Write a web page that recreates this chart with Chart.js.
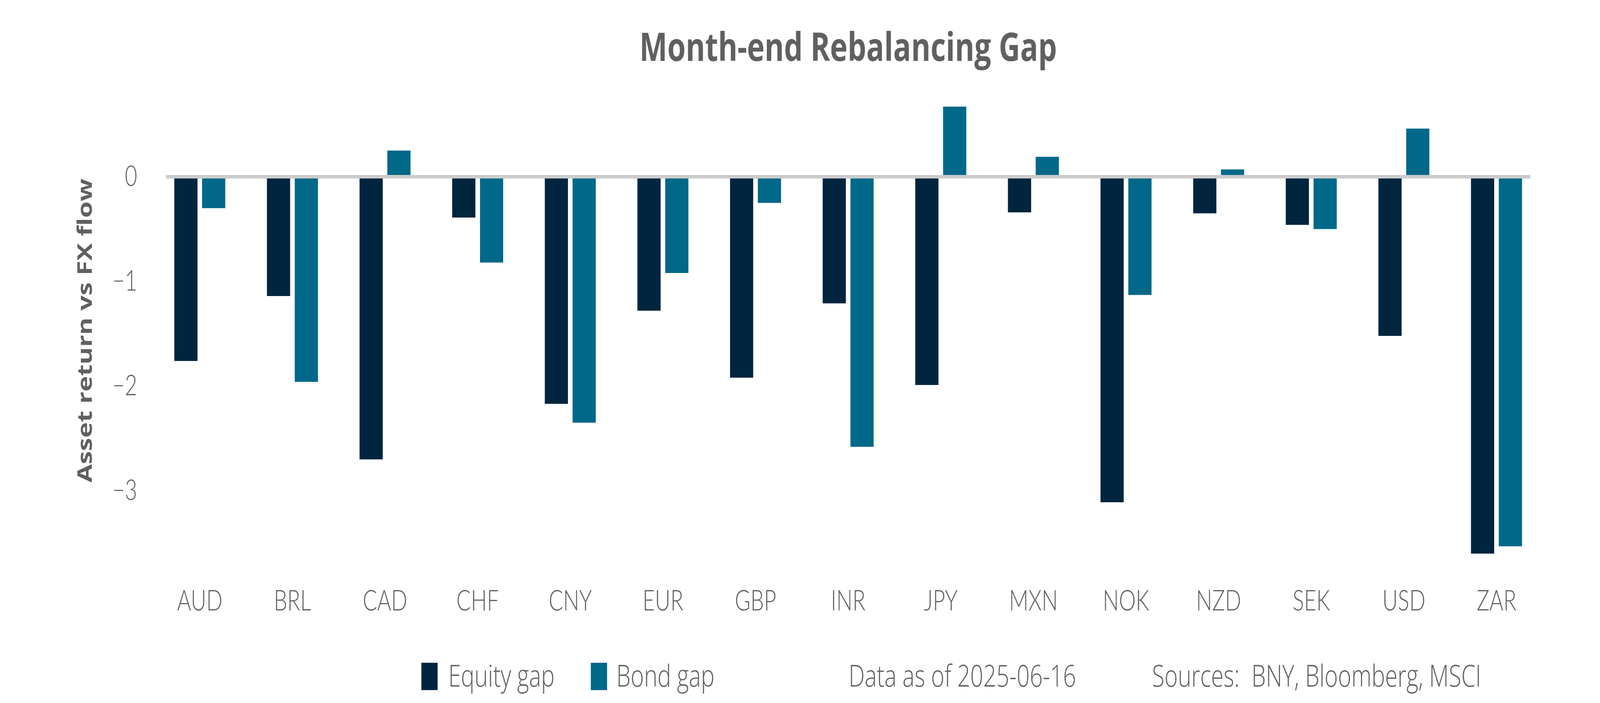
<!DOCTYPE html>
<html>
<head>
<meta charset="utf-8">
<script src="https://cdn.jsdelivr.net/npm/chart.js@4/dist/chart.umd.min.js"></script>
<style>
  html, body { margin: 0; padding: 0; background: #ffffff; overflow: hidden; width: 100%; height: 100%; }
  #outer { position: fixed; left: 0; top: 0; width: 100vw; height: 100vh; overflow: hidden; }
  #wrap { position: absolute; left: 0; top: 0; width: 5400px; height: 1800px; transform-origin: 0 0; }
  #c { display: block; }
</style>
</head>
<body>
<div id="outer"><div id="wrap"><canvas id="c" width="5400" height="1800"></canvas></div></div>
<script>
const categories = ["AUD","BRL","CAD","CHF","CNY","EUR","GBP","INR","JPY","MXN","NOK","NZD","SEK","USD","ZAR"];
const equityGap = [-1.76,-1.14,-2.70,-0.39,-2.17,-1.28,-1.92,-1.21,-1.99,-0.34,-3.11,-0.35,-0.46,-1.52,-3.60];
const bondGap   = [-0.30,-1.96,0.25,-0.82,-2.35,-0.92,-0.25,-2.58,0.67,0.19,-1.13,0.07,-0.50,0.46,-3.53];
const yTickValues = [-3,-2,-1,0];
const chartTitle = "Month-end Rebalancing Gap";
const yAxisTitle = "Asset return vs FX flow";
const dataNote = "Data as of 2025-06-16";
const sourceNote = "Sources:  BNY, Bloomberg, MSCI";

const EQUITY_COLOR = "#01253f";
const BOND_COLOR = "#006889";
const TEXT_COLOR = "#5f6062";
const FONT = "Lato";
const BOLD_FONT = "'Open Sans'";
const NOTE_FONT = "'Open Sans'";

// the window may be narrower than 5400 px: fit the 5400x1800 drawing to the viewport
(function () {
  const sx = window.innerWidth / 5400;
  const sy = window.innerHeight / 1800;
  document.getElementById("wrap").style.transform = "scale(" + sx + "," + sy + ")";
})();

const titlePlugin = {
  id: "customTitle",
  afterDraw(chart) {
    const ctx = chart.ctx;
    const ca = chart.chartArea;
    ctx.save();
    ctx.fillStyle = TEXT_COLOR;
    ctx.font = "700 100px " + BOLD_FONT;
    ctx.textAlign = "center";
    ctx.textBaseline = "alphabetic";
    ctx.fillText(chartTitle, (ca.left + ca.right) / 2, 156);
    ctx.restore();
  }
};

const zeroLinePlugin = {
  id: "zeroLine",
  afterDatasetsDraw(chart) {
    const ctx = chart.ctx;
    const ca = chart.chartArea;
    const y = chart.scales.y.getPixelForValue(0);
    ctx.save();
    ctx.strokeStyle = "#cccccc";
    ctx.lineWidth = 9;
    ctx.beginPath();
    ctx.moveTo(ca.left + 42, y);
    ctx.lineTo(ca.right - 42, y);
    ctx.stroke();
    ctx.restore();
  }
};

const footerLegendPlugin = {
  id: "footerLegend",
  afterDraw(chart) {
    const ctx = chart.ctx;
    const ds = chart.data.datasets;
    const items = [
      { box: ds[0].backgroundColor, text: ds[0].label, bx: 1422, tx: 1513 },
      { box: ds[1].backgroundColor, text: ds[1].label, bx: 1994, tx: 2080 },
      { box: null, text: dataNote, tx: 2864 },
      { box: null, text: sourceNote, tx: 3888 }
    ];
    ctx.save();
    ctx.font = "300 77px " + NOTE_FONT;
    ctx.textAlign = "left";
    ctx.textBaseline = "alphabetic";
    items.forEach(it => {
      if (it.box) {
        ctx.fillStyle = it.box;
        ctx.fillRect(it.bx, 1697, 55, 70);
      }
      ctx.fillStyle = TEXT_COLOR;
      ctx.fillText(it.text, it.tx, 1758);
    });
    ctx.restore();
  }
};

new Chart(document.getElementById("c"), {
  type: "bar",
  data: {
    labels: categories,
    datasets: [
      { label: "Equity gap", data: equityGap, backgroundColor: EQUITY_COLOR, borderWidth: 0 },
      { label: "Bond gap", data: bondGap, backgroundColor: BOND_COLOR, borderWidth: 0 }
    ]
  },
  options: {
    responsive: false,
    maintainAspectRatio: false,
    devicePixelRatio: 1,
    animation: false,
    layout: { padding: { left: 0, right: 193, top: 222, bottom: 189 } },
    datasets: { bar: { categoryPercentage: 0.6, barPercentage: 0.835 } },
    plugins: {
      legend: { display: false },
      title: { display: false },
      tooltip: { enabled: false }
    },
    scales: {
      x: {
        grid: { display: false, drawTicks: false },
        border: { display: false },
        ticks: { color: TEXT_COLOR, font: { family: FONT, size: 72, weight: "300" }, padding: 26, maxRotation: 0, autoSkip: false },
        afterFit(scale) { scale.height = 140; }
      },
      y: {
        min: -3.8,
        max: 0.86,
        grid: { display: false, drawTicks: false },
        border: { display: false },
        afterBuildTicks(scale) { scale.ticks = yTickValues.map(v => ({ value: v })); },
        ticks: {
          color: TEXT_COLOR,
          font: { family: FONT, size: 72, weight: "300" },
          padding: 55,
          callback: v => (v < 0 ? "\u2212" + Math.abs(v) : String(v))
        },
        title: {
          display: true,
          text: yAxisTitle,
          color: TEXT_COLOR,
          font: { family: "Open Sans", size: 68, weight: "700" },
          padding: { top: 250, bottom: 0 }
        },
        afterFit(scale) { scale.width = 518; }
      }
    }
  },
  plugins: [titlePlugin, zeroLinePlugin, footerLegendPlugin]
});
</script>
</body>
</html>
